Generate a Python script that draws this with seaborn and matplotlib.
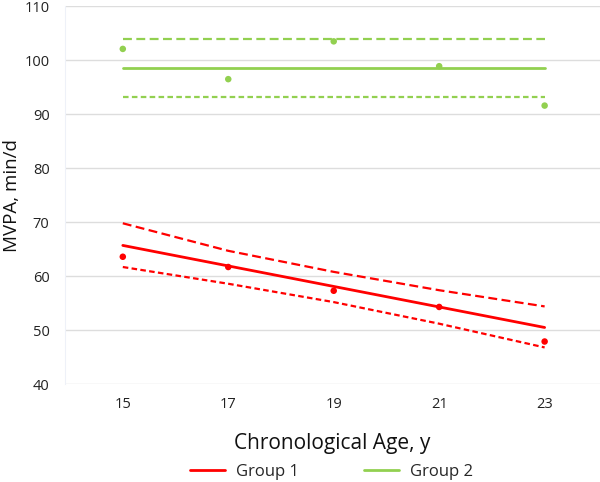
import numpy as np
import pandas as pd
import matplotlib
matplotlib.use('Agg')
import matplotlib.pyplot as plt
import seaborn as sns
from matplotlib.lines import Line2D

# chart data
ages = [15, 17, 19, 21, 23]
g1_obs = [63.6, 61.7, 57.3, 54.3, 47.9]
g1_fit = [65.7, 61.9, 58.1, 54.3, 50.5]
g1_upper = [69.8, 64.7, 60.8, 57.4, 54.4]
g1_lower = [61.7, 58.6, 55.2, 51.2, 46.8]
g2_obs = [102.1, 96.5, 103.5, 98.9, 91.6]
g2_fit = [98.5, 98.5, 98.5, 98.5, 98.5]
g2_upper = [104.0, 104.0, 104.0, 104.0, 104.0]
g2_lower = [93.1, 93.1, 93.1, 93.1, 93.1]
groups = ['Group 1', 'Group 2']
y_ticks = [40, 50, 60, 70, 80, 90, 100, 110]

RED = '#FF0000'
GREEN = '#92D050'

sns.set_style('white')
plt.rcParams['font.family'] = ['Open Sans', 'DejaVu Sans']

fig = plt.figure(figsize=(6.0, 4.82), dpi=100)
ax = fig.add_axes([0.108, 0.203, 0.892, 0.784])

series = {
    'Group 1': (g1_obs, g1_fit, g1_upper, g1_lower, RED),
    'Group 2': (g2_obs, g2_fit, g2_upper, g2_lower, GREEN),
}

for name in groups:
    obs, fit, up, lo, col = series[name]
    df = pd.DataFrame({'age': ages, 'obs': obs, 'fit': fit, 'up': up, 'lo': lo})
    sns.lineplot(data=df, x='age', y='fit', color=col, lw=2, ax=ax)
    sns.lineplot(data=df, x='age', y='up', color=col, lw=1.6, ax=ax,
                 linestyle=(0, (4, 2)))
    sns.lineplot(data=df, x='age', y='lo', color=col, lw=1.6, ax=ax,
                 linestyle=(0, (2.5, 1.5)))
    sns.scatterplot(data=df, x='age', y='obs', color=col, s=22,
                    edgecolor='none', ax=ax, zorder=5)

ax.set_xlim(13.9, 24.05)
ax.set_ylim(40, 110)
ax.set_xticks(ages)
ax.set_xticklabels([str(a) for a in ages])
ax.set_yticks(y_ticks)
ax.yaxis.grid(True, color='#DDDDDD', lw=1)
ax.xaxis.grid(False)
for s in ['top', 'right', 'bottom']:
    ax.spines[s].set_visible(False)
ax.spines['left'].set_color('#EEF1F8')
ax.tick_params(axis='both', length=0, labelsize=10.5, colors='#222222')
ax.tick_params(axis='x', pad=9)
ax.tick_params(axis='y', pad=11)
ax.set_xlabel('Chronological Age, y', fontsize=15, color='#111111')
ax.xaxis.set_label_coords(0.5, -0.13)
ax.set_ylabel('MVPA, min/d', fontsize=13.5, color='#111111')
ax.yaxis.set_label_coords(-0.082, 0.5)

handles = [Line2D([0], [0], color=RED, lw=2), Line2D([0], [0], color=GREEN, lw=2)]
fig.legend(handles, groups, loc='center', bbox_to_anchor=(0.553, 0.021),
           ncol=2, frameon=False, fontsize=12, handlelength=2.1,
           columnspacing=3.9, handletextpad=0.66)

fig.savefig('out.png', dpi=100)
